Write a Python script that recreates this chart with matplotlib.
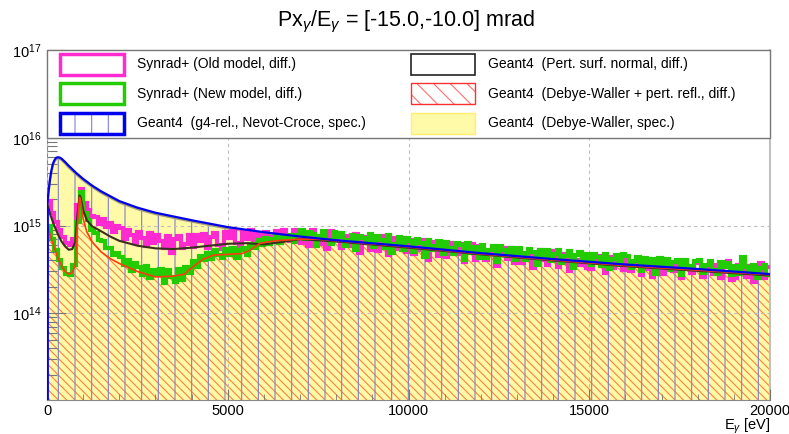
import numpy as np
import matplotlib
matplotlib.use('Agg')
import matplotlib.pyplot as plt
from matplotlib.patches import Rectangle
from matplotlib.ticker import MultipleLocator

plt.rcParams['font.family'] = ['Liberation Sans', 'DejaVu Sans']
plt.rcParams['mathtext.fontset'] = 'custom'
plt.rcParams['mathtext.rm'] = 'Liberation Sans'
plt.rcParams['mathtext.it'] = 'Liberation Sans:italic'
plt.rcParams['hatch.linewidth'] = 0.8

SCALE = 1e14  # all values below are in units of 1e14

# Geant4 (g4-rel., Nevot-Croce, spec.) -- blue
blue_x = [0, 40, 80, 120, 160, 200, 250, 300, 350, 400, 500, 600, 800, 1000, 1250, 1500,
          2000, 2500, 3000, 4000, 5000, 6000, 7000, 8000, 10000, 12000, 14000, 16000, 18000, 20000]
blue_y = [16, 24, 33, 42, 50, 55, 59, 60, 59.5, 58, 53, 48, 40, 34, 28.5, 24.5,
          19, 16, 14, 11.5, 9.6, 8.4, 7.5, 6.8, 5.8, 4.85, 4.15, 3.6, 3.2, 2.8]

# Geant4 (Debye-Waller, spec.) -- yellow
yellow_y = [15.5, 23, 32, 40.5, 48, 53, 57, 58, 57.5, 56, 51, 46, 38.5, 32.7, 27.5, 23.6,
            18.3, 15.4, 13.5, 11.1, 9.25, 8.1, 7.2, 6.55, 5.6, 4.67, 4.0, 3.47, 3.08, 2.7]

# Geant4 (Pert. surf. normal, diff.) -- black
black_x = [0, 100, 200, 300, 400, 500, 600, 700, 780, 840, 900, 930, 1000, 1100, 1250, 1500,
           1750, 2000, 2500, 3000, 3500, 4000, 4500, 5000, 5500, 6000, 6500, 7000, 8000,
           10000, 12000, 14000, 16000, 18000, 20000]
black_y = [18, 13, 10, 8.0, 6.6, 5.8, 5.3, 5.4, 6.5, 13, 22, 21, 15, 11.5, 9.8, 8.6,
           7.5, 6.7, 5.9, 5.5, 5.4, 5.6, 5.9, 6.2, 6.3, 6.1, 6.5, 7.0, 6.6,
           5.6, 4.7, 4.0, 3.45, 3.05, 2.7]

# Geant4 (Debye-Waller + pert. refl., diff.) -- red
red_x = [0, 100, 200, 300, 400, 500, 600, 700, 780, 840, 900, 930, 1000, 1100, 1250, 1500,
         1750, 2000, 2500, 3000, 3500, 3800, 4000, 4300, 4600, 5000, 5400, 5600, 5900, 6300,
         7000, 7500, 8000, 10000, 12000, 14000, 16000, 18000, 20000]
red_y = [10.5, 7.5, 5.6, 4.3, 3.5, 3.0, 2.8, 2.9, 3.6, 10, 21, 19, 12, 8.5, 6.5, 5.0,
         4.2, 3.7, 3.0, 2.6, 2.65, 2.8, 3.3, 4.1, 4.6, 4.7, 4.8, 5.2, 6.3, 6.7,
         7.0, 7.0, 6.7, 5.7, 4.75, 4.05, 3.5, 3.1, 2.75]

# Synrad+ histograms, 100 eV bins from 0 to 20000 eV
synrad_old = [
    19, 14, 11, 9.0, 7.5, 6.3, 6.0, 7.0, 17, 26,
    18, 15, 13, 12.5, 10.5, 12.0, 9.6, 10.8, 8.5, 9.8,
    9.5, 7.0, 8.9, 7.8, 6.4, 8.4, 7.2, 5.9, 8.2, 6.3,
    7.8, 6.6, 5.5, 7.6, 4.9, 7.0, 7.7, 5.6, 6.2, 7.9,
    5.7, 7.9, 6.6, 8.1, 5.5, 7.4, 8.3, 6.0, 5.4, 8.5,
    7.2, 8.6, 6.3, 5.9, 8.7, 7.0, 8.8, 6.4, 8.1, 6.0,
    8.5, 6.2, 7.4, 8.7, 6.3, 8.8, 7.6, 6.6, 8.9, 7.2,
    6.4, 8.5, 5.8, 8.8, 7.1, 6.1, 7.9, 5.4, 8.6, 6.9,
    8.0, 5.5, 7.6, 6.9, 5.9, 8.1, 4.9, 7.5, 6.6, 5.3,
    7.4, 5.1, 6.4, 7.6, 4.6, 7.2, 6.0, 5.4, 7.3, 5.0,
    6.9, 4.7, 6.2, 5.3, 6.8, 4.1, 5.9, 6.5, 4.5, 6.4,
    4.4, 6.3, 5.6, 4.8, 6.2, 3.8, 5.2, 6.1, 4.0, 5.8,
    5.8, 4.0, 5.0, 5.7, 3.5, 4.6, 5.6, 4.2, 5.5, 3.7,
    5.4, 3.7, 4.6, 5.2, 3.3, 4.8, 5.3, 4.1, 3.6, 5.1,
    4.9, 3.4, 4.2, 4.8, 3.0, 4.6, 4.1, 3.6, 4.7, 3.3,
    3.2, 4.6, 3.9, 4.5, 2.9, 4.4, 3.3, 4.3, 3.8, 3.1,
    4.3, 3.0, 3.7, 4.2, 2.7, 4.1, 3.2, 2.6, 4.0, 3.1,
    2.8, 4.0, 3.5, 3.0, 3.9, 2.5, 3.8, 3.3, 2.9, 3.7,
    3.8, 2.6, 3.3, 3.7, 2.8, 3.6, 2.5, 3.4, 3.9, 2.4,
    2.5, 3.6, 3.1, 2.6, 3.5, 2.3, 3.4, 3.7, 2.5, 3.4,
]
synrad_new = [
    10, 7.0, 5.3, 4.0, 3.3, 2.8, 2.7, 3.6, 11, 24,
    14, 11.5, 9.0, 8.3, 6.8, 6.6, 5.5, 5.6, 4.6, 4.9,
    4.4, 3.6, 4.1, 3.0, 3.7, 3.4, 2.7, 3.5, 2.5, 3.1,
    2.8, 3.2, 2.2, 3.1, 2.6, 2.3, 3.2, 2.4, 3.4, 2.9,
    3.9, 3.4, 4.5, 4.0, 4.9, 4.2, 5.3, 4.6, 4.3, 5.4,
    4.6, 5.5, 4.3, 5.3, 5.6, 4.6, 6.1, 5.5, 6.9, 6.0,
    7.3, 6.1, 7.0, 7.6, 6.3, 7.7, 6.8, 7.8, 6.5, 7.9,
    8.9, 7.0, 8.4, 8.1, 5.9, 7.6, 8.7, 6.8, 6.2, 8.5,
    7.4, 8.2, 5.8, 6.9, 7.9, 5.2, 7.7, 7.3, 6.4, 8.0,
    5.7, 7.6, 6.9, 5.5, 7.8, 4.9, 6.2, 7.4, 5.3, 7.2,
    6.6, 5.0, 7.0, 6.4, 4.4, 6.9, 5.2, 5.8, 6.7, 4.8,
    6.5, 5.6, 4.7, 6.4, 6.0, 4.1, 6.3, 4.9, 5.7, 4.3,
    6.0, 4.3, 5.2, 5.9, 3.8, 5.8, 5.3, 4.5, 5.6, 4.0,
    5.6, 4.9, 4.0, 5.4, 5.0, 3.6, 5.2, 4.4, 5.3, 3.9,
    4.8, 5.2, 3.7, 4.5, 5.1, 3.3, 4.6, 5.0, 3.9, 4.8,
    3.6, 4.8, 4.4, 3.5, 4.7, 3.2, 4.2, 4.6, 3.6, 4.7,
    4.5, 3.3, 3.9, 4.4, 3.0, 4.3, 3.5, 4.2, 2.8, 4.3,
    3.4, 4.2, 3.1, 3.8, 4.1, 2.7, 4.0, 3.5, 3.2, 3.9,
    4.0, 2.9, 3.6, 3.9, 3.1, 2.8, 3.8, 3.4, 3.7, 2.7,
    3.5, 2.8, 4.4, 3.4, 2.9, 3.6, 2.5, 3.3, 3.6, 2.7,
]

legend_labels = [
    'Synrad+ (Old model, diff.)', 'Synrad+ (New model, diff.)',
    'Geant4  (g4-rel., Nevot-Croce, spec.)', 'Geant4  (Pert. surf. normal, diff.)',
    'Geant4  (Debye-Waller + pert. refl., diff.)', 'Geant4  (Debye-Waller, spec.)',
]

c_mag = '#ff2ad0'
c_green = '#22cc00'
c_blue = '#0000ee'
c_red = '#ff3a10'
c_yellow = '#fffaa8'

ymin, ymax = 1.03e13, 1e17
edges = np.linspace(0, 20000, len(synrad_old) + 1)

fig = plt.figure(figsize=(7.89, 4.34), dpi=100)
ax = fig.add_axes([47 / 789, 34 / 434, 723 / 789, 350 / 434])
ax.set_yscale('log')

bx = np.array(blue_x)
by = np.array(blue_y) * SCALE
yy = np.array(yellow_y) * SCALE
kx = np.array(black_x)
ky = np.array(black_y) * SCALE
rx = np.array(red_x)
ry = np.array(red_y) * SCALE

# fills
ax.fill_between(bx, ymin / 10, yy, color=c_yellow, lw=0, zorder=1)
ax.fill_between(rx, ymin / 10, ry, facecolor='none', edgecolor='#ff8040',
                hatch='\\\\\\\\', lw=0, zorder=1.5)
ax.fill_between(bx, ymin / 10, by, facecolor='none', edgecolor='#8080c8',
                hatch='|', lw=0, zorder=1.6)
ax.plot(bx, yy, color='#a8a070', lw=1.6, zorder=3)

# synrad histograms
ax.stairs(np.array(synrad_old) * SCALE, edges, baseline=None, color=c_mag, lw=3.0, zorder=4)
ax.stairs(np.array(synrad_new) * SCALE, edges, baseline=None, color=c_green, lw=3.0, zorder=5)

# geant4 lines
ax.plot(kx, ky, color='#3a3020', lw=1.5, zorder=6)
ax.plot(rx, ry, color=c_red, lw=1.2, zorder=6.5)
ax.plot(bx, by, color=c_blue, lw=1.6, zorder=7)
ax.vlines(bx[0], ymin / 10, by[0], color=c_blue, lw=2, zorder=7)

ax.set_xlim(0, 20000)
ax.set_ylim(ymin, ymax)
ax.set_axisbelow(False)
ax.grid(True, which='major', ls=(0, (3, 3)), color='#bdbdbd', lw=0.8)
ax.xaxis.set_minor_locator(MultipleLocator(1000))
ax.xaxis.set_major_locator(MultipleLocator(5000))
ax.tick_params(which='both', direction='in', color='#777777', labelsize=10.5)
ax.tick_params(axis='y', which='major', length=14, width=0.8, pad=4)
ax.tick_params(axis='y', which='minor', length=7, width=0.8)
ax.tick_params(axis='x', which='major', length=8, pad=3)
ax.tick_params(axis='x', which='minor', length=4)
for side in ['left', 'bottom']:
    ax.spines[side].set_color('#888888')
ax.spines['right'].set_color('#c0c0c0')
ax.spines['right'].set_linewidth(1.5)
ax.spines['top'].set_color('#c0c0c0')
ax.set_xlabel(r'E$_{\gamma}$ [eV]', loc='right', fontsize=10.5, labelpad=-1)

# legend box covering the top decade
tr = ax.get_yaxis_transform()
ax.add_patch(Rectangle((0, 1e16), 1, 9e16, transform=tr, facecolor='white',
                       edgecolor='#777777', lw=1, zorder=10, clip_on=False))

rows = [0.9586, 0.8757, 0.7914]
bw, bh = 0.0885, 0.06
cols = [(0.018, 0.1245), (0.5035, 0.61)]
styles = [
    dict(face='white', edge=c_mag, lw=2.5, hatch=None, hcol=None),
    dict(face='white', edge=c_green, lw=2.5, hatch=None, hcol=None),
    dict(face='white', edge=c_blue, lw=2.5, hatch='|', hcol='#8080e0'),
    dict(face='white', edge='#222222', lw=1.2, hatch=None, hcol=None),
    dict(face='white', edge='#ff3030', lw=1.0, hatch='\\\\', hcol='#ff7070'),
    dict(face=c_yellow, edge='#ffee70', lw=1.0, hatch=None, hcol=None),
]
for i, (lab, st) in enumerate(zip(legend_labels, styles)):
    bx0, tx0 = cols[i // 3]
    yc = rows[i % 3]
    ax.add_patch(Rectangle((bx0, yc - bh / 2), bw, bh, transform=ax.transAxes,
                           facecolor=st['face'], edgecolor='none', lw=0, zorder=11))
    if st['hatch']:
        ax.add_patch(Rectangle((bx0, yc - bh / 2), bw, bh, transform=ax.transAxes,
                               facecolor='none', edgecolor=st['hcol'], hatch=st['hatch'],
                               lw=0, zorder=11.5))
    ax.add_patch(Rectangle((bx0, yc - bh / 2), bw, bh, transform=ax.transAxes,
                           facecolor='none', edgecolor=st['edge'], lw=st['lw'], zorder=12))
    ax.text(tx0, yc, lab, transform=ax.transAxes, fontsize=10, va='center', ha='left',
            zorder=12)

fig.text(0.515, 0.95, r'Px$_{\gamma}$/E$_{\gamma}$ = [-15.0,-10.0] mrad',
         ha='center', va='center', fontsize=15.5)

fig.savefig('out.png', dpi=100)
